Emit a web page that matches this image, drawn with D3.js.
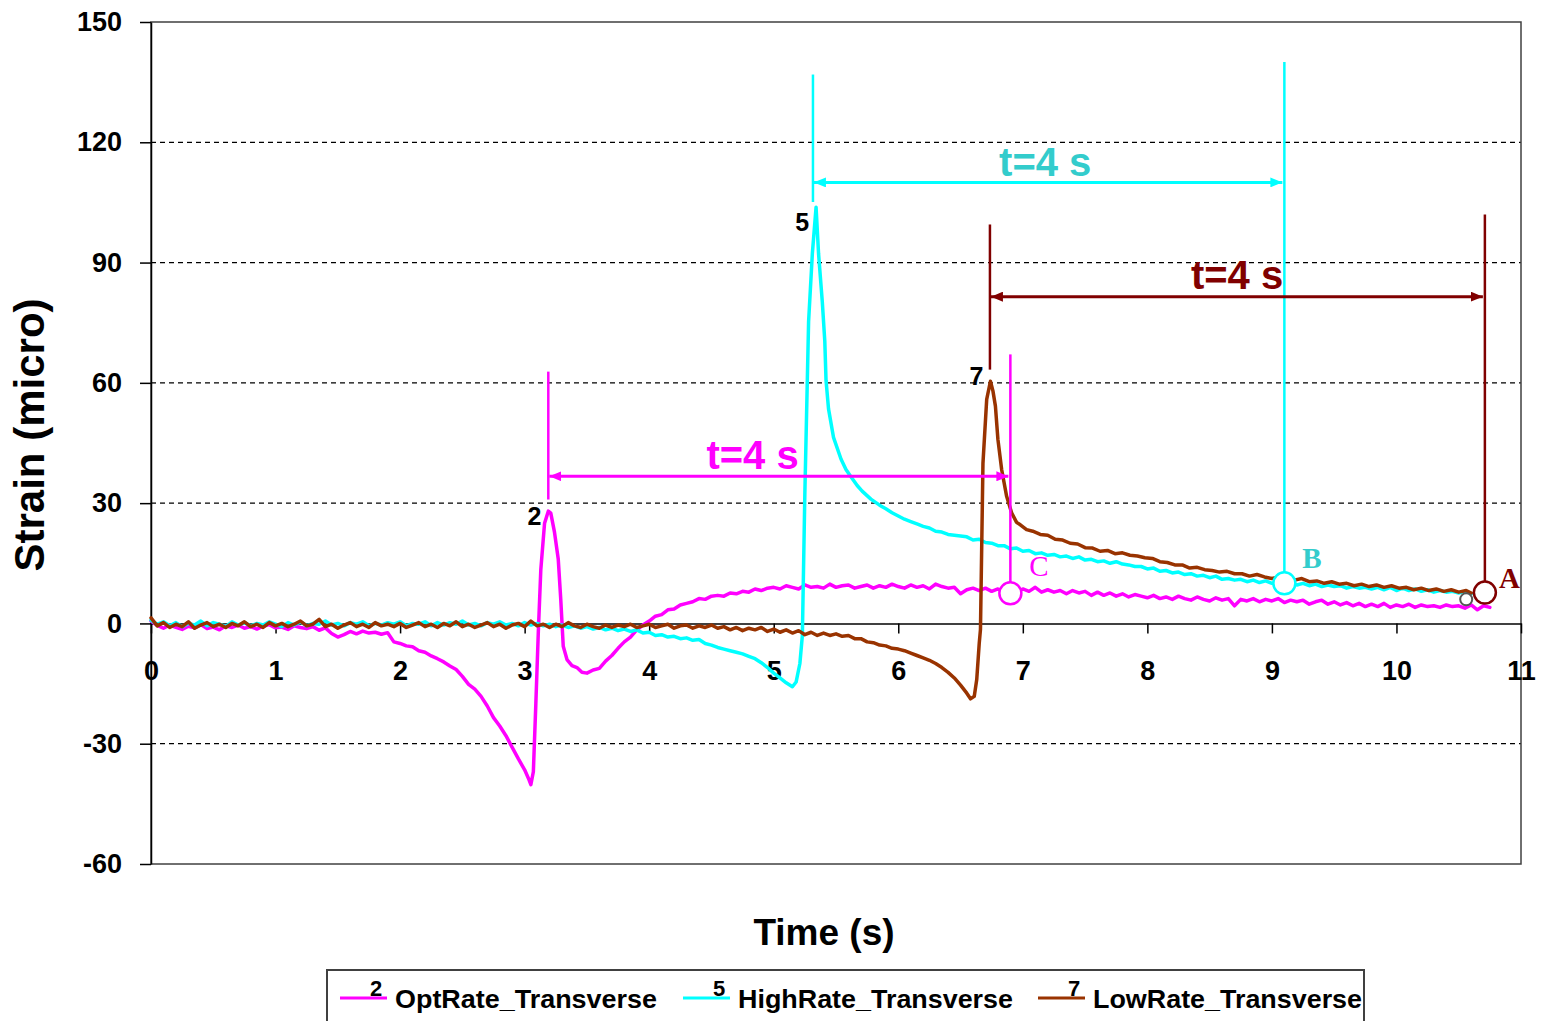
<!DOCTYPE html>
<html><head><meta charset="utf-8">
<script src="https://cdn.jsdelivr.net/npm/d3@7"></script>
<style>
html,body{margin:0;padding:0;background:#fff;}
svg{display:block;}
</style></head>
<body>
<svg id="chart" width="1542" height="1021"></svg>
<script>
// ---------------- DATA ----------------
const seriesNames = ["OptRate_Transverse", "HighRate_Transverse", "LowRate_Transverse"];
const seriesTags = ["2", "5", "7"];
const xTicks = [0,1,2,3,4,5,6,7,8,9,10,11];
const yTicks = [-60,-30,0,30,60,90,120,150];
const gridValues = [-30,30,60,90,120];

// [time (s), strain (micro)]
const optRate = [
[0,0.6],[0.05,-0.5],[0.1,-1.2],[0.15,-0.4],[0.2,-1.0],[0.25,-1.5],[0.3,-0.7],[0.35,-1.1],[0.4,-0.3],[0.45,-1.3],
[0.5,-0.9],[0.55,-1.6],[0.6,-0.6],[0.65,-1.0],[0.7,-0.4],[0.75,-1.2],[0.8,-0.8],[0.85,-1.4],[0.9,-0.7],[0.95,-0.3],
[1.0,-1.1],[1.05,-0.9],[1.1,-1.5],[1.15,-0.6],[1.2,-1.0],[1.25,-1.3],[1.3,-0.8],[1.35,-1.7],[1.4,-1.1],[1.45,-2.5],
[1.5,-3.4],[1.55,-2.8],[1.6,-2.0],[1.65,-2.6],[1.7,-1.9],[1.75,-2.4],[1.8,-2.2],[1.85,-2.7],[1.9,-2.3],[1.95,-4.6],
[2.0,-5.0],[2.05,-5.6],[2.1,-5.8],[2.15,-6.8],[2.2,-7.2],[2.25,-8.1],[2.3,-8.8],[2.35,-9.6],[2.4,-10.6],[2.45,-11.5],
[2.5,-13.2],[2.55,-15.2],[2.6,-16.4],[2.65,-18.2],[2.7,-20.6],[2.75,-23.5],[2.8,-25.6],[2.85,-28.0],[2.9,-30.9],[2.95,-33.8],
[3.0,-36.5],[3.03,-38.6],[3.05,-40.2],[3.07,-37.0],[3.09,-20.0],[3.11,-2.0],[3.13,13.5],[3.16,25.0],[3.19,28.0],[3.21,27.5],
[3.24,22.7],[3.27,16.0],[3.29,6.0],[3.31,-5.7],[3.34,-9.0],[3.38,-10.5],[3.42,-11.0],[3.46,-12.2],[3.5,-12.4],[3.55,-11.6],
[3.6,-11.2],[3.65,-9.4],[3.7,-8.0],[3.75,-6.2],[3.8,-4.6],[3.85,-3.4],[3.9,-1.6],[3.95,-0.4],[4.0,0.6],[4.05,1.8],
[4.1,2.2],[4.15,3.4],[4.2,3.6],[4.25,4.6],[4.3,5.0],[4.35,5.4],[4.4,6.2],[4.45,6.0],[4.5,6.8],[4.55,7.0],
[4.6,6.8],[4.65,7.6],[4.7,7.4],[4.75,8.0],[4.8,7.8],[4.85,8.6],[4.9,8.2],[4.95,8.8],[5.0,9.0],[5.05,8.6],
[5.1,9.4],[5.15,9.0],[5.2,8.6],[5.25,9.6],[5.3,9.0],[5.35,9.2],[5.4,8.8],[5.45,9.8],[5.5,9.0],[5.55,9.4],
[5.6,9.6],[5.65,8.8],[5.7,9.2],[5.75,9.6],[5.8,8.8],[5.85,9.4],[5.9,9.0],[5.95,9.8],[6.0,9.2],[6.05,8.8],
[6.1,9.6],[6.15,9.0],[6.2,9.4],[6.25,8.6],[6.3,9.8],[6.35,9.2],[6.4,8.8],[6.45,9.0],[6.5,7.4],[6.55,8.4],
[6.6,8.8],[6.65,8.2],[6.7,8.8],[6.75,8.0],[6.8,8.6],[6.85,7.8],[6.9,8.2],[6.95,7.8],[7.0,8.6],[7.05,8.0],
[7.1,9.0],[7.15,7.8],[7.2,8.4],[7.25,7.8],[7.3,8.2],[7.35,7.4],[7.4,8.2],[7.45,7.6],[7.5,8.0],[7.55,7.0],
[7.6,7.8],[7.65,7.0],[7.7,7.6],[7.75,6.8],[7.8,7.4],[7.85,6.6],[7.9,7.2],[7.95,6.8],[8.0,6.4],[8.05,7.0],
[8.1,6.2],[8.15,6.6],[8.2,6.0],[8.25,6.8],[8.3,6.2],[8.35,5.8],[8.4,6.6],[8.45,6.0],[8.5,5.6],[8.55,6.4],
[8.6,5.8],[8.65,6.2],[8.7,4.4],[8.75,6.0],[8.8,5.6],[8.85,6.2],[8.9,5.4],[8.95,6.0],[9.0,5.6],[9.05,6.2],
[9.1,5.2],[9.15,5.8],[9.2,5.4],[9.25,5.8],[9.3,4.8],[9.35,5.4],[9.4,5.8],[9.45,4.8],[9.5,5.4],[9.55,4.6],
[9.6,5.2],[9.65,4.4],[9.7,5.0],[9.75,4.2],[9.8,4.8],[9.85,4.2],[9.9,5.0],[9.95,4.0],[10.0,4.6],[10.05,4.2],
[10.1,4.8],[10.15,4.0],[10.2,4.6],[10.25,4.2],[10.3,4.4],[10.35,4.0],[10.4,4.6],[10.45,4.2],[10.5,4.4],[10.55,3.8],
[10.6,4.6],[10.65,3.4],[10.7,4.4],[10.75,4.0]
];

const highRate = [
[0,0.8],[0.05,-0.2],[0.1,0.4],[0.15,-0.6],[0.2,0.2],[0.25,-0.8],[0.3,0.0],[0.35,-0.4],[0.4,0.6],[0.45,-0.6],
[0.5,0.2],[0.55,-0.2],[0.6,-0.8],[0.65,0.4],[0.7,-0.4],[0.75,0.2],[0.8,-0.6],[0.85,0.0],[0.9,-0.4],[0.95,0.4],
[1.0,-0.2],[1.05,-0.8],[1.1,0.2],[1.15,-0.4],[1.2,0.4],[1.25,-0.6],[1.3,0.0],[1.35,-0.2],[1.4,0.6],[1.45,-0.4],
[1.5,0.0],[1.55,-0.6],[1.6,0.2],[1.65,-0.2],[1.7,0.4],[1.75,-0.6],[1.8,0.0],[1.85,-0.4],[1.9,0.2],[1.95,-0.2],
[2.0,0.4],[2.05,-0.6],[2.1,0.0],[2.15,-0.2],[2.2,0.4],[2.25,-0.6],[2.3,0.2],[2.35,-0.4],[2.4,0.2],[2.45,-0.2],
[2.5,0.6],[2.55,-0.4],[2.6,0.0],[2.65,-0.6],[2.7,0.2],[2.75,-0.2],[2.8,0.4],[2.85,-0.4],[2.9,0.0],[2.95,-0.6],
[3.0,0.2],[3.05,-0.4],[3.1,0.0],[3.15,-0.6],[3.2,-0.2],[3.25,-0.8],[3.3,-0.4],[3.35,-1.0],[3.4,-0.6],[3.45,-1.2],
[3.5,-0.8],[3.55,-1.4],[3.6,-1.0],[3.65,-1.6],[3.7,-1.2],[3.75,-1.8],[3.8,-1.4],[3.85,-2.0],[3.9,-1.6],[3.95,-2.4],
[4.0,-2.2],[4.05,-3.0],[4.1,-2.8],[4.15,-3.4],[4.2,-3.2],[4.25,-3.8],[4.3,-3.6],[4.35,-4.2],[4.4,-4.0],[4.45,-5.0],
[4.5,-5.4],[4.55,-6.0],[4.6,-6.4],[4.65,-6.8],[4.7,-7.2],[4.75,-7.6],[4.8,-8.2],[4.85,-8.8],[4.9,-9.8],[4.95,-11.0],
[5.0,-12.4],[5.05,-13.6],[5.1,-14.8],[5.15,-15.8],[5.18,-14.6],[5.21,-10.0],[5.23,-3.0],[5.25,32.6],[5.28,75.3],[5.31,92.2],
[5.34,103.8],[5.36,92.2],[5.39,80.2],[5.41,70.4],[5.42,60.6],[5.44,53.5],[5.48,46.4],[5.54,41.0],[5.58,38.4],[5.62,36.6],
[5.67,34.4],[5.71,33.0],[5.78,31.0],[5.85,29.5],[5.9,28.6],[5.95,27.6],[6.0,26.8],[6.05,26.0],[6.1,25.4],[6.15,24.8],
[6.2,24.2],[6.25,23.8],[6.3,23.0],[6.35,22.8],[6.4,22.2],[6.45,22.0],[6.5,21.8],[6.55,21.6],[6.6,20.8],[6.65,21.0],
[6.7,20.2],[6.75,20.0],[6.8,19.4],[6.85,19.4],[6.9,18.6],[6.95,18.8],[7.0,18.0],[7.05,18.2],[7.1,17.4],[7.15,17.6],
[7.2,17.0],[7.25,17.2],[7.3,16.6],[7.35,16.8],[7.4,16.2],[7.45,16.6],[7.5,15.8],[7.55,16.0],[7.6,15.4],[7.65,15.6],
[7.7,15.0],[7.75,15.4],[7.8,14.8],[7.85,14.6],[7.9,14.2],[7.95,14.2],[8.0,13.6],[8.05,13.8],[8.1,13.0],[8.15,13.2],
[8.2,12.6],[8.25,12.8],[8.3,12.2],[8.35,12.4],[8.4,11.8],[8.45,12.0],[8.5,11.4],[8.55,11.8],[8.6,11.0],[8.65,11.2],
[8.7,10.8],[8.75,11.0],[8.8,10.4],[8.85,10.8],[8.9,10.2],[8.95,10.6],[9.0,10.0],[9.05,10.4],[9.1,10.0],[9.15,10.2],
[9.2,9.6],[9.25,10.0],[9.3,9.4],[9.35,9.8],[9.4,9.2],[9.45,9.6],[9.5,9.2],[9.55,9.4],[9.6,8.8],[9.65,9.2],
[9.7,8.8],[9.75,9.0],[9.8,8.6],[9.85,9.0],[9.9,8.4],[9.95,9.0],[10.0,8.2],[10.05,8.8],[10.1,8.2],[10.15,8.6],
[10.2,8.0],[10.25,8.4],[10.3,7.8],[10.35,8.2],[10.4,7.8],[10.45,8.0],[10.5,7.6],[10.55,8.0],[10.6,7.4]
];

const lowRate = [
[0,1.4],[0.05,-0.6],[0.1,0.2],[0.15,-1.0],[0.2,-0.2],[0.25,-0.8],[0.3,0.4],[0.35,-1.2],[0.4,-0.4],[0.45,0.2],
[0.5,-0.8],[0.55,-0.2],[0.6,-1.0],[0.65,0.0],[0.7,-0.6],[0.75,0.4],[0.8,-0.8],[0.85,-0.2],[0.9,-1.0],[0.95,0.2],
[1.0,-0.6],[1.05,0.0],[1.1,-0.8],[1.15,-0.2],[1.2,0.6],[1.25,-0.6],[1.3,-0.2],[1.35,1.0],[1.4,-0.8],[1.45,-0.2],
[1.5,-1.2],[1.55,-0.4],[1.6,0.2],[1.65,-0.8],[1.7,-0.2],[1.75,-1.0],[1.8,0.2],[1.85,-0.6],[1.9,-0.2],[1.95,-0.8],
[2.0,0.0],[2.05,-1.0],[2.1,-0.4],[2.15,0.2],[2.2,-0.8],[2.25,-0.2],[2.3,-1.0],[2.35,0.0],[2.4,-0.6],[2.45,0.4],
[2.5,-0.8],[2.55,-0.2],[2.6,-1.0],[2.65,-0.4],[2.7,0.2],[2.75,-0.8],[2.8,-0.2],[2.85,-1.2],[2.9,-0.4],[2.95,0.0],
[3.0,-0.8],[3.05,0.6],[3.1,-0.6],[3.15,-0.2],[3.2,-1.0],[3.25,-0.2],[3.3,-0.8],[3.35,0.2],[3.4,-0.6],[3.45,-1.0],
[3.5,-0.2],[3.55,-0.8],[3.6,-1.2],[3.65,-0.4],[3.7,-1.0],[3.75,-0.4],[3.8,-0.8],[3.85,-0.2],[3.9,-1.0],[3.95,-0.6],
[4.0,-0.2],[4.05,-1.0],[4.1,-0.6],[4.15,-0.2],[4.2,-1.2],[4.25,-0.6],[4.3,-0.4],[4.35,-1.2],[4.4,-0.6],[4.45,-1.0],
[4.5,-0.4],[4.55,-1.2],[4.6,-0.8],[4.65,-1.6],[4.7,-1.0],[4.75,-1.8],[4.8,-1.2],[4.85,-1.6],[4.9,-1.0],[4.95,-2.0],
[5.0,-1.4],[5.05,-2.2],[5.1,-1.6],[5.15,-2.4],[5.2,-1.8],[5.25,-2.8],[5.3,-2.2],[5.35,-3.0],[5.4,-2.4],[5.45,-3.0],
[5.5,-2.6],[5.55,-3.2],[5.6,-3.0],[5.65,-3.8],[5.7,-3.8],[5.75,-4.6],[5.8,-4.8],[5.85,-5.4],[5.9,-5.6],[5.95,-6.2],
[6.0,-6.4],[6.05,-6.8],[6.1,-7.4],[6.15,-8.0],[6.2,-8.6],[6.25,-9.2],[6.3,-10.0],[6.35,-11.0],[6.4,-12.2],[6.45,-13.6],
[6.5,-15.4],[6.55,-17.4],[6.58,-18.8],[6.61,-18.2],[6.63,-14.0],[6.65,-5.0],[6.66,-1.5],[6.68,40.0],[6.71,55.9],[6.74,60.4],
[6.76,58.0],[6.78,54.2],[6.8,45.9],[6.83,38.4],[6.87,31.7],[6.91,27.6],[6.95,25.2],[6.98,24.6],[7.03,23.4],[7.08,23.0],
[7.14,22.2],[7.2,22.0],[7.26,21.0],[7.32,20.8],[7.38,20.0],[7.44,19.8],[7.5,18.9],[7.56,18.8],[7.62,18.0],[7.68,18.2],
[7.74,17.4],[7.8,17.6],[7.86,17.0],[7.92,16.8],[7.98,16.4],[8.04,16.2],[8.1,15.4],[8.16,15.2],[8.22,14.6],[8.28,14.6],
[8.34,13.8],[8.4,14.0],[8.46,13.4],[8.52,13.2],[8.58,12.8],[8.64,13.0],[8.7,12.4],[8.76,12.4],[8.82,11.8],[8.88,12.2],
[8.94,11.6],[9.0,11.2],[9.06,11.6],[9.12,11.0],[9.18,10.8],[9.24,11.2],[9.3,10.4],[9.36,10.6],[9.42,10.0],[9.48,10.4],
[9.54,9.8],[9.6,10.0],[9.66,9.4],[9.72,9.8],[9.78,9.2],[9.84,9.6],[9.9,9.0],[9.96,9.4],[10.02,8.8],[10.08,9.0],
[10.14,8.4],[10.2,8.8],[10.26,8.2],[10.32,8.6],[10.38,8.0],[10.44,8.4],[10.5,7.8],[10.56,8.2],[10.6,7.6]
];

// peak markers (series tag at the peak): [time, strain]
const peakPoints = [[3.19,28.0],[5.34,103.8],[6.74,60.4]];

// t = 4 s spans: start time, end time, arrow level, end marker strain
const spanStart = [3.19, 5.315, 6.736];
const spanEnd = [6.90, 9.10, 10.71];
const spanArrow = [36.7, 110.0, 81.5];
const spanStartTop = [62.8, 136.9, 99.5];
const spanStartBottom = [30.9, 105.1, 63.3];
const spanEndTop = [67.1, 140.0, 102.0];
const spanMarker = [7.5, 10.0, 7.7];
const spanLabels = ["t=4 s", "t=4 s", "t=4 s"];
const spanLabelTime = [4.83, 7.18, 8.72];
const spanLabelStrain = [38.4, 111.5, 83.3];
const markerLetters = ["C", "B", "A"];
const extraMarker = [10.56, 6.0];

// ---------------- STYLE / LAYOUT ----------------
const lineColors = ["#ff00ff", "#00ffff", "#993300"];
const annoColors = ["#ff00ff", "#00ffff", "#800000"];
const annoTextColors = ["#ff00ff", "#33cccc", "#800000"];
const FONT = "'Liberation Sans', Arial, Helvetica, sans-serif";
const SERIF = "'Liberation Serif', 'Times New Roman', serif";

const svg = d3.select("#chart");
const L = 151, R = 1521, T = 22, B = 864;
const x = d3.scaleLinear().domain([0, 11]).range([L, R]);
const y = d3.scaleLinear().domain([-60, 150]).range([B, T]);

// arrow markers
const defs = svg.append("defs");
annoColors.forEach((c, i) => {
  defs.append("marker").attr("id", "ah" + i)
    .attr("viewBox", "0 0 12 10").attr("refX", 12).attr("refY", 5)
    .attr("markerWidth", 12).attr("markerHeight", 10).attr("markerUnits", "userSpaceOnUse")
    .attr("orient", "auto-start-reverse")
    .append("path").attr("d", "M0,0 L12,5 L0,10 Z").attr("fill", c);
});

// grid
svg.append("g").selectAll("line").data(gridValues).join("line")
  .attr("x1", L).attr("x2", R).attr("y1", d => y(d)).attr("y2", d => y(d))
  .attr("stroke", "#000").attr("stroke-width", 1.2).attr("stroke-dasharray", "5,4");

// frame
svg.append("rect").attr("x", L).attr("y", T).attr("width", R - L).attr("height", B - T)
  .attr("fill", "none").attr("stroke", "#404040").attr("stroke-width", 1.5);

// y axis
const yAxis = svg.append("g").attr("transform", `translate(${L},0)`)
  .call(d3.axisLeft(y).tickValues(yTicks).tickFormat(d => String(d)).tickSize(11).tickPadding(18).tickSizeOuter(0));
yAxis.select(".domain").attr("stroke", "#000").attr("stroke-width", 1.5);
yAxis.selectAll(".tick line").attr("stroke", "#000").attr("stroke-width", 1.5);
yAxis.selectAll("text").attr("font-family", FONT).attr("font-weight", "bold")
  .attr("font-size", 27).attr("fill", "#000");

// x axis along zero line
const xAxis = svg.append("g").attr("transform", `translate(0,${y(0)})`)
  .call(d3.axisBottom(x).tickValues(xTicks).tickFormat(d => String(d)).tickSize(10).tickPadding(27).tickSizeOuter(0));
xAxis.select(".domain").attr("stroke", "#000").attr("stroke-width", 1.5);
xAxis.selectAll(".tick line").attr("stroke", "#000").attr("stroke-width", 1.5);
xAxis.selectAll("text").attr("font-family", FONT).attr("font-weight", "bold")
  .attr("font-size", 27).attr("fill", "#000");

// series
const line = d3.line().x(d => x(d[0])).y(d => y(d[1]));
[optRate, highRate, lowRate].forEach((s, i) => {
  svg.append("path").datum(s).attr("d", line).attr("fill", "none")
    .attr("stroke", lineColors[i]).attr("stroke-width", 3.5)
    .attr("stroke-linejoin", "round").attr("stroke-linecap", "round");
});

// peak tags
const tagDx = [-7, -7, -7];
const tagDy = [14, 24, 4];
peakPoints.forEach((p, i) => {
  svg.append("text").attr("x", x(p[0]) + tagDx[i]).attr("y", y(p[1]) + tagDy[i])
    .attr("text-anchor", "end").attr("font-family", FONT).attr("font-weight", "bold")
    .attr("font-size", 25).attr("fill", "#000").text(seriesTags[i]);
});

// spans
const mR = 11;
spanStart.forEach((t0, i) => {
  const g = svg.append("g");
  const c = annoColors[i];
  g.append("line").attr("x1", x(t0)).attr("x2", x(t0))
    .attr("y1", y(spanStartTop[i])).attr("y2", y(spanStartBottom[i]))
    .attr("stroke", c).attr("stroke-width", 2.5);
  g.append("line").attr("x1", x(spanEnd[i])).attr("x2", x(spanEnd[i]))
    .attr("y1", y(spanEndTop[i])).attr("y2", y(spanMarker[i]) - mR)
    .attr("stroke", c).attr("stroke-width", 2.5);
  g.append("line").attr("x1", x(t0) + 1).attr("x2", x(spanEnd[i]) - 2)
    .attr("y1", y(spanArrow[i])).attr("y2", y(spanArrow[i]))
    .attr("stroke", c).attr("stroke-width", 3)
    .attr("marker-start", `url(#ah${i})`).attr("marker-end", `url(#ah${i})`);
  g.append("text").attr("x", x(spanLabelTime[i])).attr("y", y(spanLabelStrain[i]))
    .attr("text-anchor", "middle").attr("font-family", FONT).attr("font-weight", "bold")
    .attr("font-size", 40).attr("fill", annoTextColors[i]).text(spanLabels[i]);
});

// extra small marker
svg.append("circle").attr("cx", x(extraMarker[0])).attr("cy", y(extraMarker[1])).attr("r", 6)
  .attr("fill", "#fff").attr("stroke", "#555").attr("stroke-width", 2);

// end markers
spanEnd.forEach((t1, i) => {
  svg.append("circle").attr("cx", x(t1)).attr("cy", y(spanMarker[i])).attr("r", mR)
    .attr("fill", "#fff").attr("stroke", annoColors[i]).attr("stroke-width", 2.5);
});
// marker letters
const letterDx = [19, 18, 14];
const letterDy = [-17, -15, -5];
spanEnd.forEach((t1, i) => {
  svg.append("text").attr("x", x(t1) + letterDx[i]).attr("y", y(spanMarker[i]) + letterDy[i])
    .attr("font-family", SERIF).attr("font-weight", i === 0 ? "normal" : "bold")
    .attr("font-size", 29).attr("fill", annoTextColors[i]).text(markerLetters[i]);
});

// axis titles
svg.append("text").attr("x", (L + R) / 2 - 12).attr("y", 945).attr("text-anchor", "middle")
  .attr("font-family", FONT).attr("font-weight", "bold").attr("font-size", 37).text("Time (s)");
svg.append("text").attr("transform", "translate(44,435) rotate(-90)").attr("text-anchor", "middle")
  .attr("font-family", FONT).attr("font-weight", "bold").attr("font-size", 42).text("Strain (micro)");

// legend
const lg = svg.append("g");
lg.append("rect").attr("x", 327).attr("y", 970).attr("width", 1037).attr("height", 70)
  .attr("fill", "#fff").attr("stroke", "#404040").attr("stroke-width", 2);
const legX = [340, 683, 1038];
const legTextW = [262, 275, 269];
seriesNames.forEach((n, i) => {
  lg.append("line").attr("x1", legX[i]).attr("x2", legX[i] + 47).attr("y1", 998).attr("y2", 998)
    .attr("stroke", lineColors[i]).attr("stroke-width", 3);
  lg.append("text").attr("x", legX[i] + 36).attr("y", 996).attr("text-anchor", "middle")
    .attr("font-family", FONT).attr("font-weight", "bold").attr("font-size", 22).text(seriesTags[i]);
  lg.append("text").attr("x", legX[i] + 55).attr("y", 1008)
    .attr("font-family", FONT).attr("font-weight", "bold").attr("font-size", 25)
    .attr("textLength", legTextW[i]).attr("lengthAdjust", "spacingAndGlyphs").text(n);
});
</script>
</body></html>
